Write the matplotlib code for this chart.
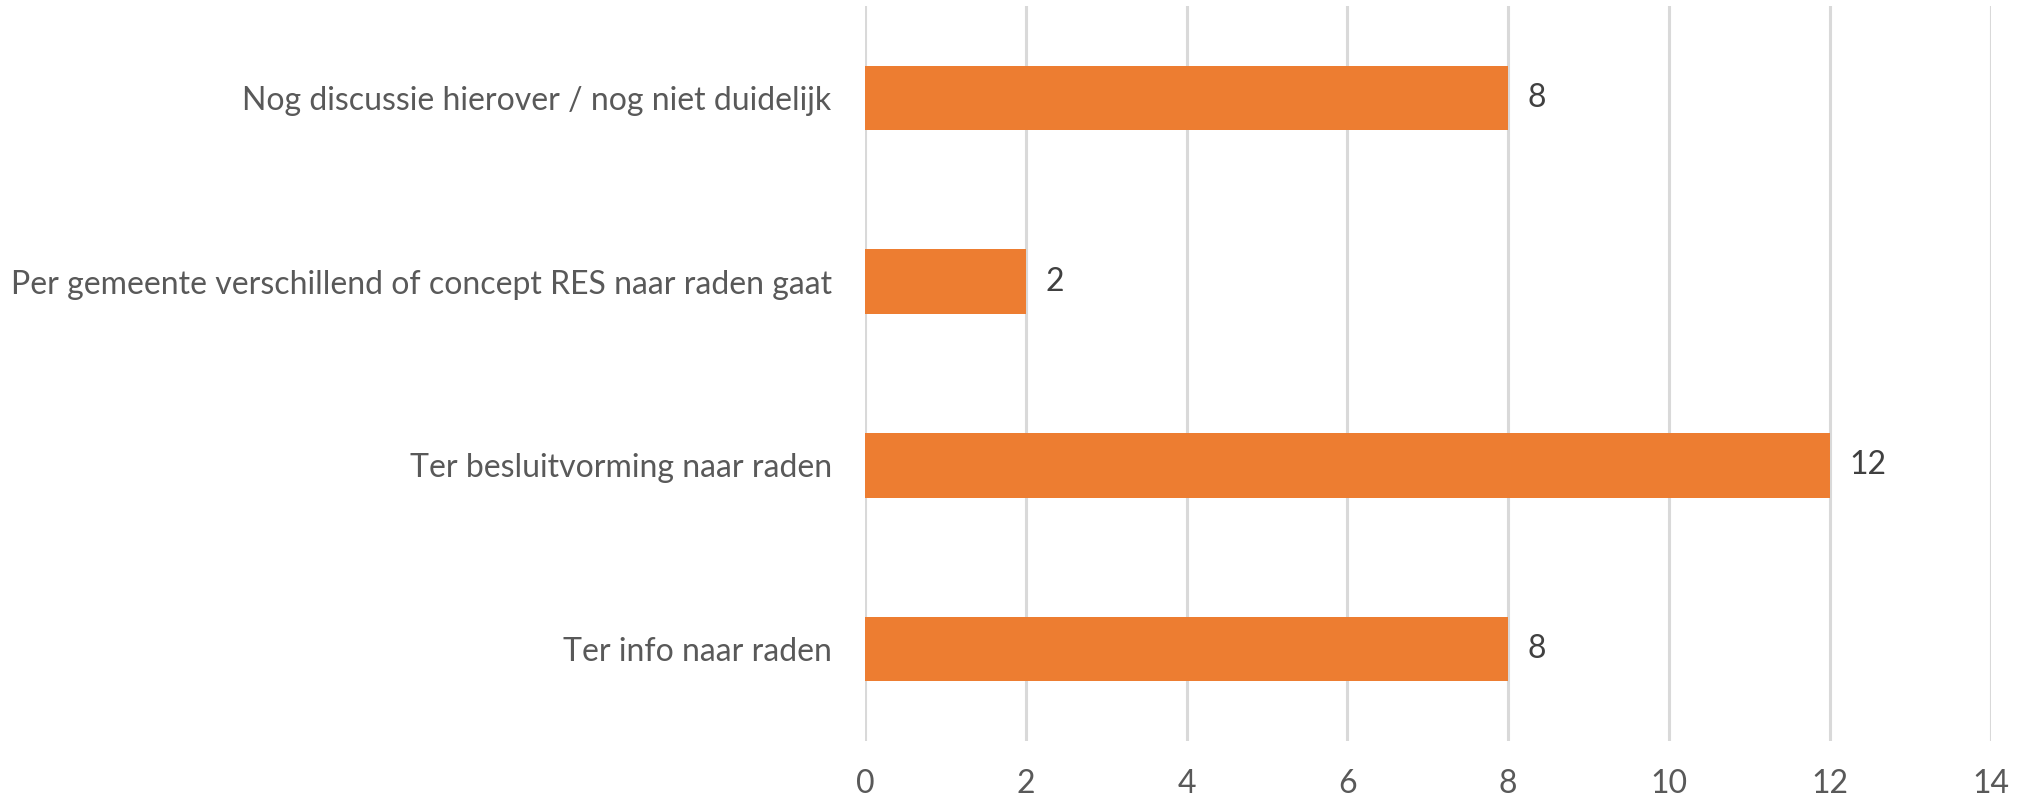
import matplotlib
matplotlib.use("Agg")
import matplotlib.pyplot as plt

# Categorieën (van boven naar beneden) en aantallen
categorieen = [
    "Nog discussie hierover / nog niet duidelijk",
    "Per gemeente verschillend of concept RES naar raden gaat",
    "Ter besluitvorming naar raden",
    "Ter info naar raden",
]
aantallen = [8, 2, 12, 8]
x_ticks = [0, 2, 4, 6, 8, 10, 12, 14]

plt.rcParams["font.family"] = ["Lato", "DejaVu Sans"]
tekstkleur = "#595959"

fig = plt.figure(figsize=(20.21, 8.02), dpi=100)
ax = fig.add_axes([0.428, 0.076, 0.557, 0.9165])

posities = list(range(len(categorieen)))
ax.barh(posities, aantallen, height=0.35, color="#ED7D31", zorder=3)

for p, v in zip(posities, aantallen):
    ax.text(v + 0.24, p, str(v), va="center", ha="left",
            fontsize=23, color="#404040")

ax.set_xlim(0, 14)
ax.set_ylim(len(categorieen) - 0.5, -0.5)
ax.set_xticks(x_ticks)
ax.set_xticklabels([str(t) for t in x_ticks], fontsize=23, color=tekstkleur)
ax.set_yticks(posities)
ax.set_yticklabels(categorieen, fontsize=23, color=tekstkleur)

ax.grid(axis="x", color="#D9D9D9", linewidth=2.2, zorder=0)
ax.tick_params(axis="both", length=0)
ax.tick_params(axis="x", pad=20)
ax.tick_params(axis="y", pad=24)
for s in ax.spines.values():
    s.set_visible(False)

fig.savefig("out.png", dpi=100)
